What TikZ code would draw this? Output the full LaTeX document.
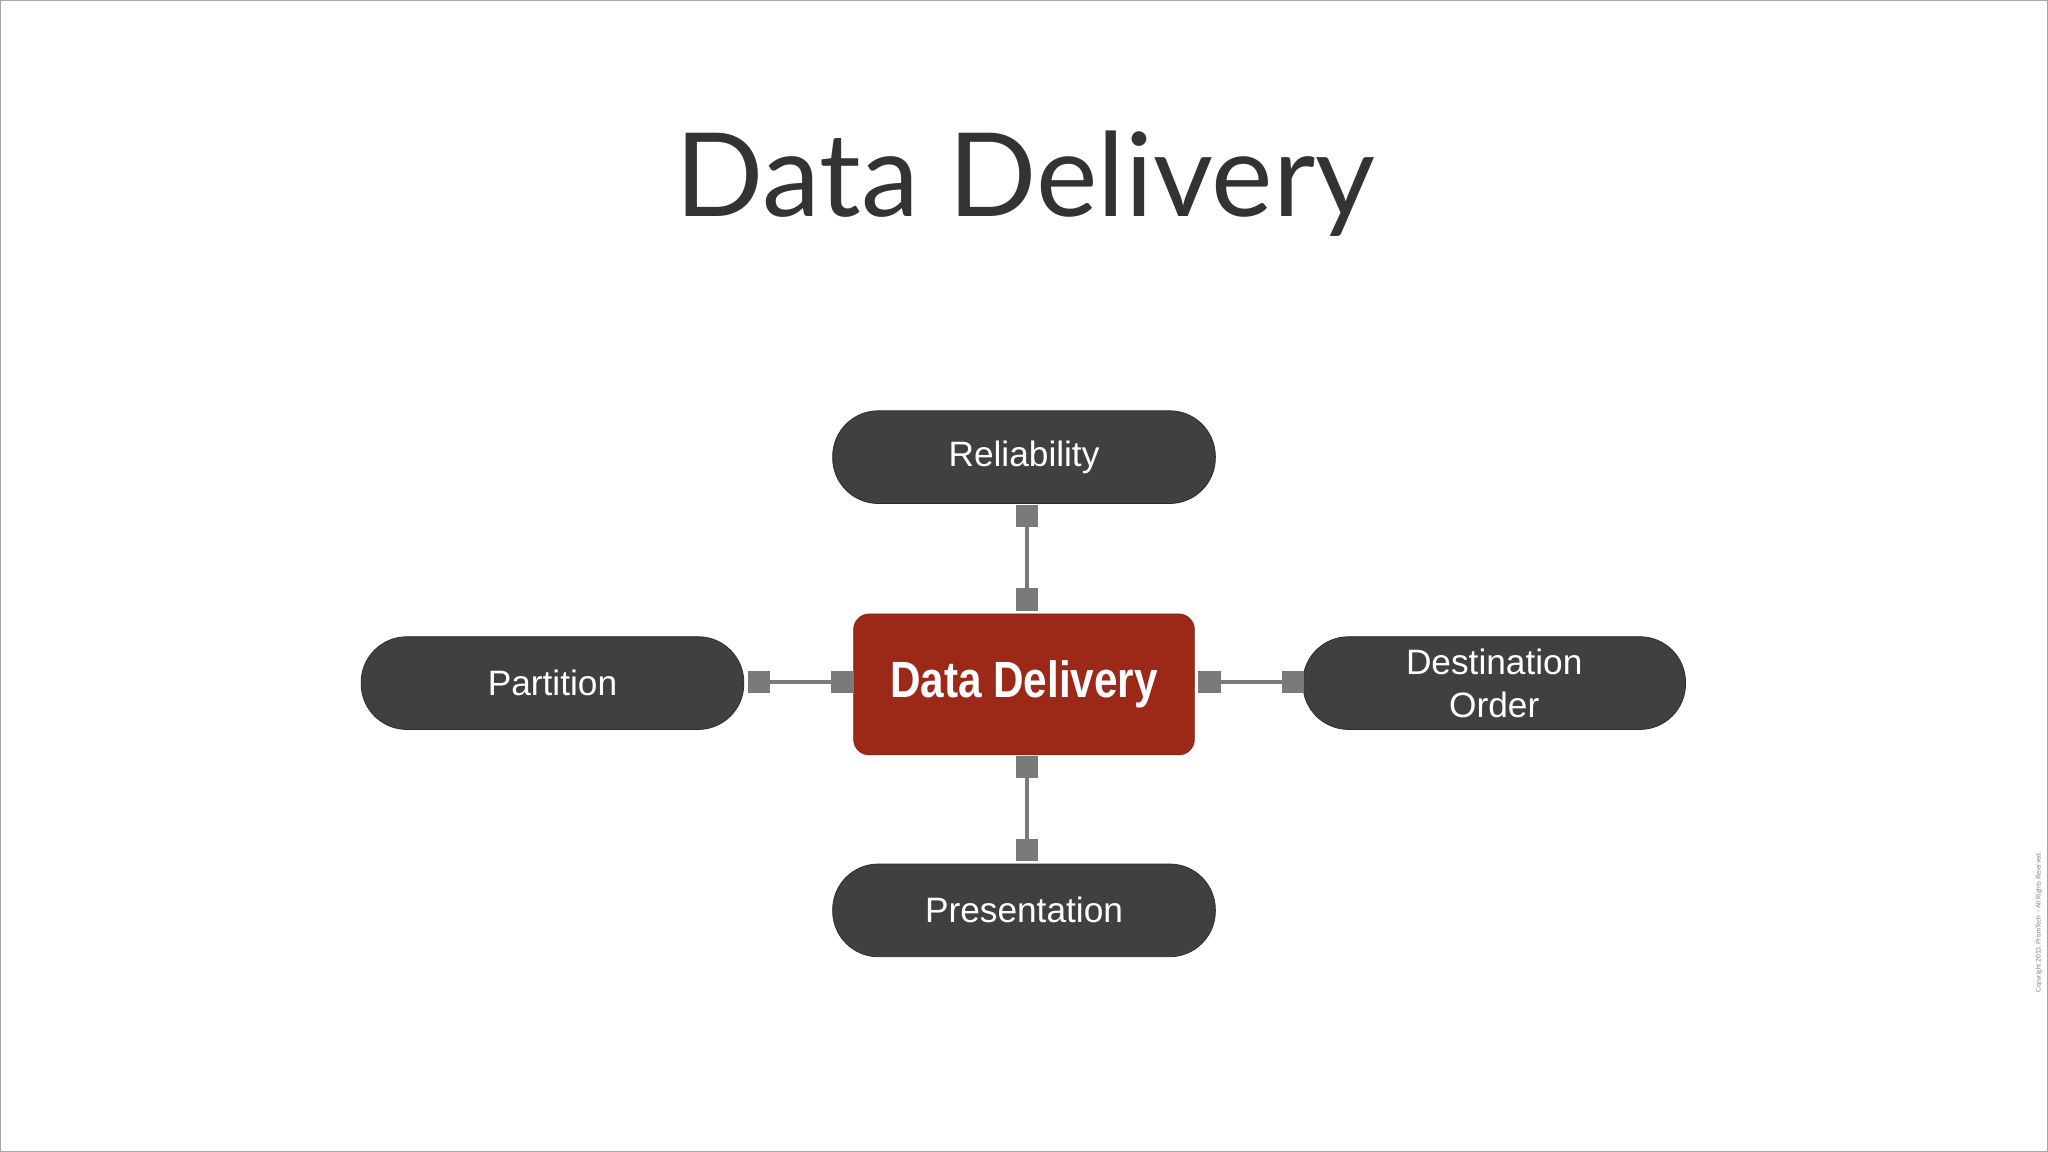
\documentclass[tikz,border=0pt]{standalone}
\usepackage{fontspec}
\setmainfont{Lato}
\newfontfamily\hel{Liberation Sans}
\begin{document}
\begin{tikzpicture}[x=1pt,y=-1pt,
  pill/.style={fill=pillc,draw=pillc!70!black,line width=0.6pt,rounded corners=35pt,minimum width=293pt,minimum height=71pt,text=white,font=\hel\fontsize{27}{33}\selectfont,align=center},
  sq/.style={fill=sqc,minimum size=17pt,inner sep=0pt},
  con/.style={draw=sqc,line width=3pt}]
\definecolor{pillc}{HTML}{404040}
\definecolor{sqc}{HTML}{7A7A7A}
\definecolor{redc}{HTML}{9C2818}
\draw[draw=gray!70,fill=white] (0.5,0.5) rectangle (1567.5,881.5);
\useasboundingbox (0,0) rectangle (1568,882);
\node[text=black!80,font=\fontsize{89}{94}\selectfont] (title) at (785,141) {Data Delivery};
\node[pill] (rel) at (784,350) {Reliability};
\node[pill] (par) at (423,523) {Partition};
\node[pill] (dst) at (1144,523) {Destination\\Order};
\node[pill] (pre) at (784,697) {Presentation};
\node[fill=redc,draw=redc!80!black,rounded corners=12pt,minimum width=261pt,minimum height=108pt,text=white,font=\hel\bfseries\fontsize{39}{40}\selectfont] (dd) at (784,524) {\scalebox{0.83}[1]{Data Delivery}};
\node[sq] (t1) at (786,395) {}; \node[sq] (t2) at (786,459) {};
\node[sq] (l1) at (581,522) {}; \node[sq] (l2) at (645,522) {};
\node[sq] (r1) at (926,522) {}; \node[sq] (r2) at (990,522) {};
\node[sq] (b1) at (786,587) {}; \node[sq] (b2) at (786,651) {};
\draw[con] (t1) -- (t2); \draw[con] (l1) -- (l2);
\draw[con] (r1) -- (r2); \draw[con] (b1) -- (b2);
\node[rotate=90,font=\fontsize{5}{6}\selectfont,text=gray] (cp) at (1561,706) {Copyright 2013, PrismTech -- All Rights Reserved.};
\end{tikzpicture}
\end{document}
